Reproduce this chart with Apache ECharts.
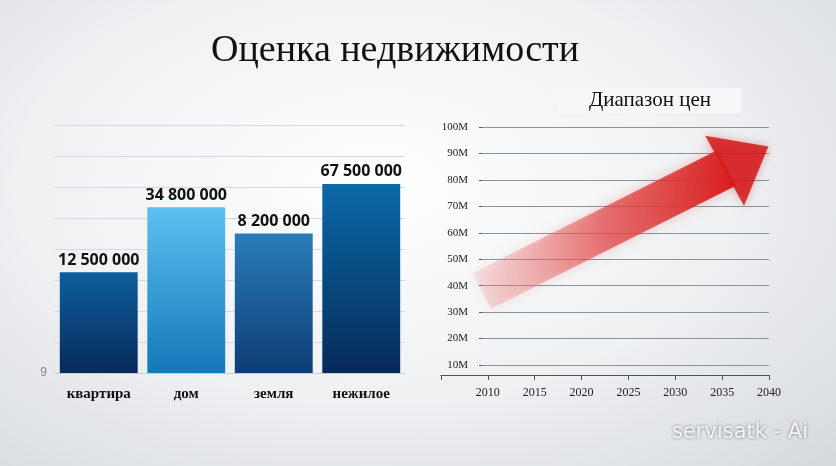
<!DOCTYPE html>
<html><head><meta charset="utf-8">
<script src="https://cdn.jsdelivr.net/npm/echarts@6/dist/echarts.min.js"></script>
<style>html,body{margin:0;padding:0;}#main{width:836px;height:466px;background:radial-gradient(ellipse at 45% 40%,#ffffff 0%,#eef0f2 55%,#d5d9de 100%);}</style>
</head><body><div id="main"></div>
<script>
// левый график
const categories = ['квартира', 'дом', 'земля', 'нежилое'];
const barHeights = [3.25, 5.35, 4.5, 6.1];
const barLabels = ['12 500 000', '34 800 000', '8 200 000', '67 500 000'];
const barColors = [['#0d5f9e', '#072a5a'], ['#5cc0f0', '#1478b9'], ['#2b7db9', '#0c3c74'], ['#0b6aa8', '#062a58']];
// правый график
const years = [2005, 2010, 2015, 2020, 2025, 2030, 2035, 2040];
const yTicks = [10, 20, 30, 40, 50, 60, 70, 80, 90, 100];
const arrowYears = [2009.4, 2035.5];
const arrowValues = [38, 84.5];
const headPoint = [2037.6, 88];

var myChart = echarts.init(document.getElementById('main'));
const serif = 'Liberation Serif';
var option = {
  title: [{
    text: 'Оценка недвижимости', left: 390, top: 27, textAlign: 'center',
    textStyle: {fontFamily: serif, fontSize: 38, fontWeight: 'normal', color: '#111'}
  }, {
    text: 'Диапазон цен', left: 620, top: 88, textAlign: 'center',
    backgroundColor: '#f7f8f9', padding: [2, 30],
    textStyle: {fontFamily: serif, fontSize: 21, fontWeight: 'normal', color: '#111'}
  }, {
    text: 'servisatk - Ai', left: 735, top: 417, textAlign: 'center',
    textStyle: {fontFamily: 'DejaVu Sans', fontSize: 21, fontWeight: 'normal', color: '#f4f6f8',
      textShadowColor: 'rgba(0,0,0,0.5)', textShadowBlur: 3}
  }],
  grid: [
    {left: 55, right: 431, top: 125, bottom: 93},
    {left: 482, right: 67, top: 127, bottom: 101},
    {left: 441, right: 67, top: 127, bottom: 91}
  ],
  xAxis: [{
    gridIndex: 0, type: 'category', data: categories,
    axisLine: {lineStyle: {color: '#c8cdd2'}}, axisTick: {show: false},
    axisLabel: {fontFamily: serif, fontWeight: 'bold', fontSize: 15, color: '#111', margin: 14}
  }, {
    gridIndex: 1, type: 'value', min: 2009.4, max: 2040, show: false
  }, {
    gridIndex: 2, type: 'value', min: 2005, max: 2040, interval: 5,
    axisLine: {lineStyle: {color: '#4a5560', width: 1.2}},
    axisTick: {show: true, length: 5, lineStyle: {color: '#4a5560'}},
    splitLine: {show: false},
    axisLabel: {fontFamily: serif, fontSize: 12, color: '#222', margin: 12,
      formatter: v => years.indexOf(v) > 0 ? String(v) : ''}
  }],
  yAxis: [{
    gridIndex: 0, type: 'value', min: 0, max: 8, interval: 1,
    axisLabel: {color: '#888', fontSize: 12, formatter: v => v === 0 ? '9' : ''},
    splitLine: {lineStyle: {color: '#d4d8dc'}}
  }, {
    gridIndex: 1, type: 'value', min: 10, max: 100, interval: 10,
    axisLine: {show: false},
    axisTick: {show: true, length: 3, lineStyle: {color: '#555'}},
    axisLabel: {fontFamily: serif, fontSize: 11, color: '#222', margin: 14,
      formatter: v => yTicks.indexOf(v) >= 0 ? v + 'M' : ''},
    splitLine: {lineStyle: {color: '#8a939c'}}
  }, {
    gridIndex: 2, type: 'value', show: false
  }],
  series: [{
    type: 'bar', xAxisIndex: 0, yAxisIndex: 0, barCategoryGap: '11%',
    data: barHeights.map((v, i) => ({
      value: v,
      itemStyle: {color: new echarts.graphic.LinearGradient(0, 0, 0, 1, [
        {offset: 0, color: barColors[i][0]}, {offset: 1, color: barColors[i][1]}])},
      label: {formatter: barLabels[i]}
    })),
    label: {show: true, position: 'top', fontFamily: 'Open Sans', fontWeight: 'bold', fontSize: 16, color: '#111', distance: 4}
  }, {
    type: 'line', xAxisIndex: 1, yAxisIndex: 1, symbol: 'none', silent: true,
    data: arrowYears.map((y, i) => [y, arrowValues[i]]),
    lineStyle: {width: 40, cap: 'butt', shadowColor: 'rgba(220,30,30,0.3)', shadowBlur: 12,
      color: new echarts.graphic.LinearGradient(0, 0, 1, 0, [
        {offset: 0, color: 'rgba(240,150,150,0.15)'}, {offset: 0.5, color: 'rgba(225,70,70,0.7)'}, {offset: 1, color: '#d51515'}])}
  }, {
    type: 'scatter', xAxisIndex: 1, yAxisIndex: 1, silent: true,
    data: [headPoint], symbol: 'triangle', symbolSize: [80, 50], symbolRotate: -61,
    itemStyle: {color: '#d20e0e', shadowColor: 'rgba(200,0,0,0.4)', shadowBlur: 8}
  }]
};
myChart.setOption(option);
</script></body></html>
